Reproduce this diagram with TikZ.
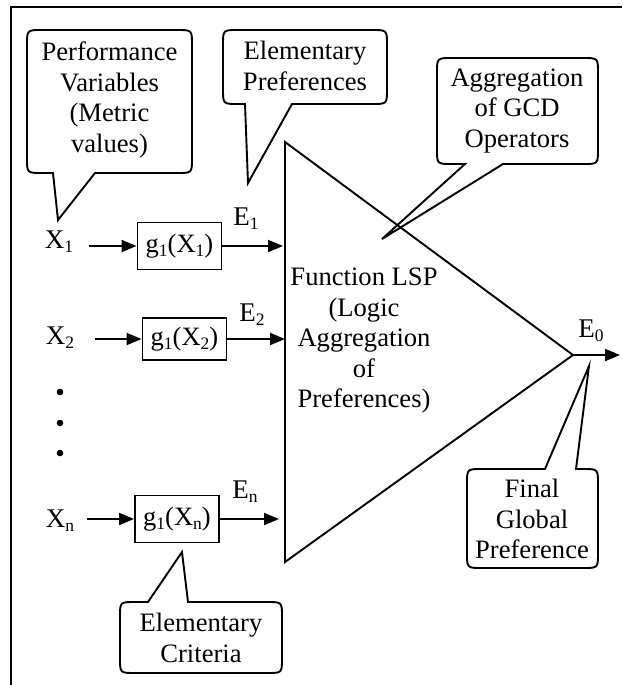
\documentclass[tikz,border=0pt]{standalone}
\usepackage{fontspec}
\setmainfont{Liberation Serif}
\usetikzlibrary{arrows.meta}

% lowered small index, e.g. X_1
\newcommand\lowidx[1]{\raisebox{-0.17em}{\fontsize{17.5}{17.5}\selectfont #1}}

% speech bubble whose pointer leaves the bottom edge:
% left, top, right, bottom, base x 1, base x 2, tip coordinate
\newcommand\bubbledown[7]{%
  \draw[bubble] (#5,#4) -- ({#1+15},#4) .. controls (#1,#4) .. (#1,{#4-15})
    -- (#1,{#2+15}) .. controls (#1,#2) .. ({#1+15},#2)
    -- ({#3-15},#2) .. controls (#3,#2) .. (#3,{#2+15})
    -- (#3,{#4-15}) .. controls (#3,#4) .. ({#3-15},#4)
    -- (#6,#4) -- (#7) -- cycle;}

% speech bubble whose pointer leaves the top edge
\newcommand\bubbleup[7]{%
  \draw[bubble] (#5,#2) -- ({#1+15},#2) .. controls (#1,#2) .. (#1,{#2+15})
    -- (#1,{#4-15}) .. controls (#1,#4) .. ({#1+15},#4)
    -- ({#3-15},#4) .. controls (#3,#4) .. (#3,{#4-15})
    -- (#3,{#2+15}) .. controls (#3,#2) .. ({#3-15},#2)
    -- (#6,#2) -- (#7) -- cycle;}

\begin{document}
\begin{tikzpicture}[x=1pt,y=-1pt,
  every node/.style={font=\fontsize{26.6}{30.5}\selectfont, align=center, inner sep=0pt},
  lbl/.style={font=\fontsize{27}{27}\selectfont, anchor=base},
  fbox/.style={draw, line width=1.9pt, minimum width=84pt, minimum height=47pt,
               font=\fontsize{26.5}{26.5}\selectfont},
  conn/.style={line width=1.9pt, -{Triangle[length=15pt,width=12pt]}},
  outline/.style={line width=1.9pt, line join=miter},
  bubble/.style={draw, line width=1.9pt, line join=miter},
  dot/.style={circle, fill, minimum size=6.6pt, inner sep=0pt},
]
\useasboundingbox (0,0) rectangle (622,685);

% frame
\draw[line width=2.2pt] (11,685) -- (11,7) -- (622,7);

% aggregation triangle
\coordinate (ta) at (285,142);
\coordinate (tb) at (285,562);
\coordinate (tc) at (573,355);
\draw[outline] (ta) -- (tc) -- (tb) -- cycle;
\node (lsp) at (364,341) {Function LSP\\(Logic\\Aggregation\\of\\Preferences)};

% global output
\coordinate (out) at (620,355);
\draw[conn] (tc) -- (out);
\node[lbl] (e0) at (591,337) {E\lowidx{0}};

% row 1
\node[lbl] (x1) at (59,248) {X\lowidx{1}};
\node[fbox] (g1) at (179.5,246) {g\lowidx{1}(X\lowidx{1})};
\coordinate (s1) at (89,246);
\coordinate (t1) at (283,246);
\draw[conn] (s1) -- (g1.west);
\draw[conn] (g1.east) -- (t1);
\node[lbl] (e1) at (246,225) {E\lowidx{1}};

% row 2
\node[lbl] (x2) at (60,344) {X\lowidx{2}};
\node[fbox, minimum height=42pt] (g2) at (184.5,339) {g\lowidx{1}(X\lowidx{2})};
\coordinate (s2) at (95,339);
\coordinate (t2) at (285,339);
\draw[conn] (s2) -- (g2.west);
\draw[conn] (g2.east) -- (t2);
\node[lbl] (e2) at (252,321) {E\lowidx{2}};

% ellipsis
\node[dot] (d1) at (60,392) {};
\node[dot] (d2) at (60,423) {};
\node[dot] (d3) at (60,453) {};

% row n
\node[lbl] (xn) at (60,527) {X\lowidx{n}};
\node[fbox] (gn) at (177,519) {g\lowidx{1}(X\lowidx{n})};
\coordinate (sn) at (87,519);
\coordinate (tn) at (279,519);
\draw[conn] (sn) -- (gn.west);
\draw[conn] (gn.east) -- (tn);
\node[lbl] (en) at (245,498) {E\lowidx{n}};

% callouts
\coordinate (tipvar) at (58,220);
\bubbledown{27}{30}{192}{173}{53}{95}{tipvar}
\node (cvar) at (109.5,100) {Performance\\Variables\\(Metric\\values)};

\coordinate (tippref) at (248,183);
\bubbledown{223}{30}{387}{104}{245}{292}{tippref}
\node (cpref) at (305,66) {Elementary\\Preferences};

\coordinate (tipgcd) at (382,239);
\bubbledown{437}{58}{598}{164}{465}{503}{tipgcd}
\node (cgcd) at (517,111) {Aggregation\\of GCD\\Operators};

\coordinate (tipfin) at (589,366);
\bubbleup{467}{469}{598}{568}{545}{576}{tipfin}
\node (cfin) at (532,519) {Final\\Global\\Preference};

\coordinate (tipcrit) at (182,552);
\bubbleup{120}{602}{282}{673}{148}{188}{tipcrit}
\node (ccrit) at (201,638) {Elementary\\Criteria};
\end{tikzpicture}
\end{document}
